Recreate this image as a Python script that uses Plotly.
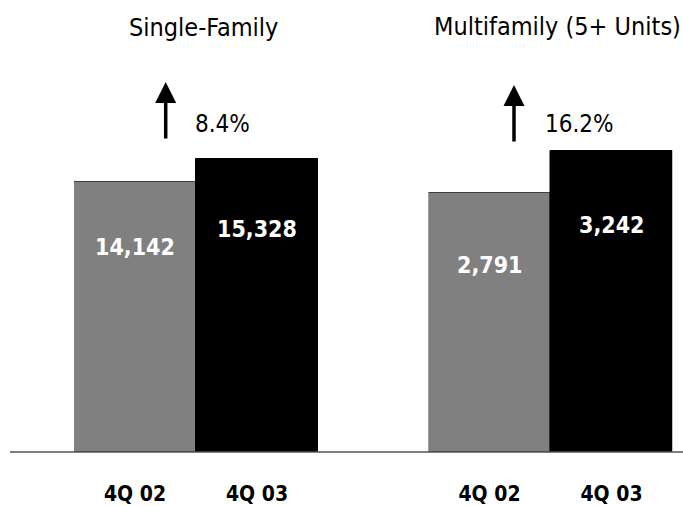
import plotly.graph_objects as go

W, H = 683, 506

periods = ["4Q 02", "4Q 03"]
single_family = [14142, 15328]
multifamily = [2791, 3242]
panel_titles = ["Single-Family", "Multifamily (5+ Units)"]
pct_changes = ["8.4%", "16.2%"]
bar_colors = ["#808080", "#000000"]
edge_colors = ["#404040", "#000000"]

NARROW = "DejaVu Sans Condensed, Liberation Sans Narrow, sans-serif"

def px_x(p):
    return p / W

def px_y(p):
    return 1 - p / H

base_px = 452
y_dom = [px_y(base_px), 1.0]

fig = go.Figure()
fig.add_trace(go.Bar(x=periods, y=single_family, xaxis="x", yaxis="y",
                     marker=dict(color=bar_colors, line=dict(color=edge_colors, width=1)),
                     hoverinfo="x+y", showlegend=False))
fig.add_trace(go.Bar(x=periods, y=multifamily, xaxis="x2", yaxis="y2",
                     marker=dict(color=bar_colors, line=dict(color=edge_colors, width=1)),
                     hoverinfo="x+y", showlegend=False))

tickfont = dict(family=NARROW, size=21, color="#000000")
common_x = dict(type="category", range=[-0.5, 1.5], showgrid=False, zeroline=False,
                showline=False, ticks="outside", ticklen=23, tickcolor="rgba(0,0,0,0)",
                tickfont=tickfont, fixedrange=True)
fig.update_layout(
    width=W, height=H,
    margin=dict(l=0, r=0, t=0, b=0),
    paper_bgcolor="white", plot_bgcolor="rgba(0,0,0,0)",
    bargap=0,
    xaxis=dict(domain=[px_x(74), px_x(318)], anchor="y", **common_x),
    xaxis2=dict(domain=[px_x(428.5), px_x(672.5)], anchor="y2", **common_x),
    yaxis=dict(domain=y_dom, range=[0, 23670], visible=False, fixedrange=True),
    yaxis2=dict(domain=y_dom, range=[0, 4868], visible=False, fixedrange=True, anchor="x2"),
)

# baseline
fig.add_shape(type="line", xref="paper", yref="paper",
              x0=px_x(10), x1=1.0, y0=px_y(base_px), y1=px_y(base_px),
              line=dict(color="#555555", width=1.5))

anns = []
# titles
title_pos = [(203, 27), (557, 26)]
for t, (cx, cy) in zip(panel_titles, title_pos):
    anns.append(dict(text=t, xref="paper", yref="paper", x=px_x(cx), y=px_y(cy),
                     showarrow=False, xanchor="center", yanchor="middle",
                     font=dict(family=NARROW, size=25, color="#000000")))

# arrows + pct
arrow_pos = [(165.7, 82, 140), (514, 85, 143)]
pct_pos = [(192.5, 124), (543, 124)]
for (ax_, ytip, ytail), pct, (pxl, pyl) in zip(arrow_pos, pct_changes, pct_pos):
    anns.append(dict(text="", xref="paper", yref="paper", x=px_x(ax_), y=px_y(ytip),
                     ax=0, ay=ytail - ytip, showarrow=True, arrowhead=2,
                     arrowsize=1.2, arrowwidth=3.5, arrowcolor="#000000"))
    anns.append(dict(text=pct, xref="paper", yref="paper", x=px_x(pxl), y=px_y(pyl),
                     showarrow=False, xanchor="left", yanchor="middle",
                     font=dict(family=NARROW, size=24, color="#000000")))

# value labels
val_y = [[247.5, 229], [264.5, 225]]
for k, (vals, axn) in enumerate([(single_family, "x"), (multifamily, "x2")]):
    for i, v in enumerate(vals):
        anns.append(dict(text=f"<b>{v:,}</b>", xref=axn, yref="paper",
                         x=periods[i], y=px_y(val_y[k][i]),
                         showarrow=False, xanchor="center", yanchor="middle",
                         font=dict(family=NARROW, size=23, color="#ffffff")))

fig.update_layout(annotations=anns)
fig.update_xaxes(tickprefix="<b>", ticksuffix="</b>")

fig.write_html("out.html")
